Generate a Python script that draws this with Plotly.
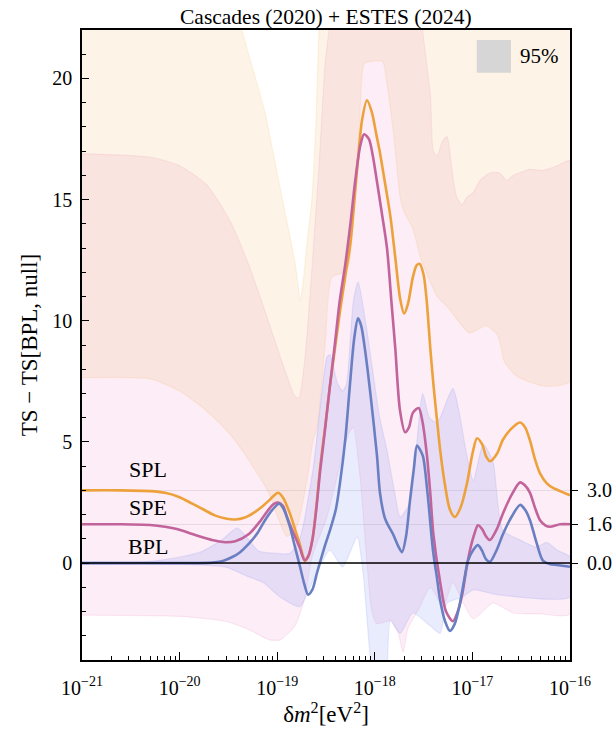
import numpy as np
import plotly.graph_objects as go

# ---------------- data (x given as log10 of delta m^2 [eV^2]) ----------------
spl_logx = [-21.0, -20.6, -20.3, -20.15, -20.0, -19.87, -19.75, -19.64, -19.53, -19.43, -19.33, -19.23,
            -19.15, -19.08, -19.03, -18.99, -18.94, -18.87, -18.81, -18.77, -18.74, -18.715, -18.68,
            -18.64, -18.60, -18.56, -18.51, -18.46, -18.41, -18.36, -18.30, -18.25, -18.18, -18.13,
            -18.08, -18.03, -17.98, -17.95, -17.90, -17.84, -17.79, -17.74, -17.70, -17.66, -17.61,
            -17.57, -17.54, -17.50, -17.47, -17.43, -17.40, -17.36, -17.33, -17.28, -17.23, -17.18,
            -17.12, -17.055, -17.0, -16.953, -16.90, -16.86, -16.82, -16.75, -16.686, -16.60, -16.512,
            -16.46, -16.41, -16.36, -16.307, -16.24, -16.174, -16.09, -16.0]
spl_ts = [3.0, 3.0, 2.97, 2.9, 2.72, 2.45, 2.2, 1.97, 1.84, 1.8, 1.88, 2.1,
          2.35, 2.6, 2.8, 2.9, 2.7, 2.05, 1.3, 0.8, 0.35, 0.08, 0.3,
          0.95, 2.3, 3.95, 5.6, 7.3, 8.8, 10.3, 11.9, 13.2, 16.3, 18.3,
          19.1, 18.6, 17.6, 17.0, 15.8, 14.3, 12.6, 10.9, 10.3, 10.7, 11.8,
          12.3, 12.35, 11.9, 10.9, 8.8, 7.4, 5.8, 4.65, 3.2, 2.2, 1.9,
          2.3, 3.3, 4.5, 5.15, 4.9, 4.4, 4.2, 4.5, 5.1, 5.55, 5.8,
          5.6, 5.06, 4.3, 3.7, 3.3, 3.1, 2.95, 2.8]

spe_logx = [-21.0, -20.6, -20.3, -20.15, -20.0, -19.87, -19.75, -19.64, -19.535, -19.43, -19.29, -19.18,
            -19.08, -19.03, -18.99, -18.94, -18.90, -18.84, -18.77, -18.72, -18.68, -18.64, -18.60,
            -18.56, -18.51, -18.46, -18.41, -18.36, -18.30, -18.25, -18.20, -18.15, -18.11, -18.06,
            -18.02, -17.98, -17.93, -17.875, -17.83, -17.79, -17.742, -17.69, -17.65, -17.61, -17.55,
            -17.51, -17.465, -17.43, -17.40, -17.33, -17.27, -17.20, -17.15, -17.10, -17.06, -17.025,
            -16.98, -16.943, -16.90, -16.86, -16.82, -16.75, -16.686, -16.60, -16.512, -16.46, -16.41,
            -16.36, -16.307, -16.25, -16.205, -16.10, -16.0]
spe_ts = [1.6, 1.6, 1.57, 1.5, 1.38, 1.2, 1.05, 0.93, 0.86, 0.9, 1.2, 1.7,
          2.25, 2.45, 2.5, 2.35, 1.9, 1.3, 0.65, 0.12, 0.3, 0.95, 2.2,
          3.8, 5.5, 7.3, 9.0, 10.8, 12.4, 14.0, 15.8, 17.2, 17.7, 17.5,
          16.8, 15.8, 14.5, 13.0, 10.8, 8.85, 6.3, 5.4, 5.6, 6.2, 6.4,
          5.8, 4.4, 2.8, 1.2, -0.8, -2.0, -2.4, -2.0, -1.2, -0.2, 0.53,
          1.2, 1.56, 1.4, 1.1, 0.95, 1.4, 2.06, 2.8, 3.33, 3.2, 2.9,
          2.3, 1.77, 1.55, 1.5, 1.6, 1.6]

bpl_logx = [-21.0, -20.5, -20.0, -19.8, -19.64, -19.55, -19.46, -19.38, -19.29, -19.2, -19.125, -19.05,
            -18.98, -18.93, -18.87, -18.82, -18.766, -18.72, -18.684, -18.64, -18.592, -18.52, -18.459,
            -18.40, -18.357, -18.30, -18.254, -18.21, -18.172, -18.14, -18.10, -18.04, -17.977, -17.947,
            -17.90, -17.875, -17.814, -17.76, -17.721, -17.68, -17.639, -17.60, -17.568, -17.54, -17.506,
            -17.46, -17.404, -17.36, -17.332, -17.28, -17.23, -17.18, -17.127, -17.08, -17.045, -16.99,
            -16.943, -16.90, -16.86, -16.82, -16.75, -16.686, -16.60, -16.512, -16.46, -16.41, -16.34,
            -16.277, -16.20, -16.133, -16.0]
bpl_ts = [0.0, 0.0, 0.0, 0.0, 0.03, 0.1, 0.25, 0.45, 0.8, 1.25, 1.77, 2.2,
          2.45, 2.2, 1.5, 0.7, -0.15, -0.9, -1.3, -1.1, -0.4, 0.6, 1.36,
          2.2, 3.3, 5.2, 7.4, 9.3, 10.1, 9.8, 8.8, 6.8, 4.4, 2.9,
          1.9, 1.65, 1.2, 0.7, 0.45, 1.1, 2.6, 3.9, 4.85, 4.7, 4.4,
          2.9, 0.53, -0.7, -1.5, -2.4, -2.8, -2.5, -1.65, -0.6, 0.1, 0.55,
          0.74, 0.5, 0.15, 0.05, 0.55, 1.2, 1.9, 2.4, 2.2, 1.77, 0.8,
          0.1, -0.05, -0.08, -0.15]

# 95% bands
spl_hi_logx = [-21.0, -19.45, -19.361, -19.25, -19.125, -19.04, -18.951, -18.88, -18.818, -18.78, -18.766,
               -18.74, -18.70, -18.643, -18.60, -18.572, -18.54, -16.0]
spl_hi = [24, 24, 22, 20.4, 18.6, 16.9, 15.1, 13.7, 12.4, 11.3, 10.8,
          11.4, 13.0, 15.1, 18.5, 22, 24, 24]
spl_lo_logx = [-21.0, -20.3, -20.0, -19.73, -19.5, -19.35, -19.10, -18.90, -18.80, -18.70, -18.63, -18.59,
               -18.51, -18.44, -18.31, -18.26, -18.16, -18.11, -18.05, -17.92, -17.88, -17.81, -17.74,
               -17.70, -17.61, -17.53, -17.36, -17.26, -17.03, -16.86, -16.74, -16.67, -16.54, -16.26, -16.0]
spl_lo = [7.65, 7.6, 7.1, 6.3, 5.4, 4.6, 3.0, 1.1, 1.5, 3.3, 5.1, 5.6,
          9.0, 11.8, 12.0, 12.4, 17.9, 20.6, 20.7, 20.7, 19.9, 17.8, 15.1,
          14.5, 13.8, 12.6, 11.0, 10.6, 9.5, 9.8, 9.4, 8.3, 7.7, 7.3, 7.5]

spe_hi_logx = [-21.0, -20.3, -20.0, -19.72, -19.48, -19.30, -19.125, -18.95, -18.82, -18.78, -18.72, -18.64,
               -18.57, -18.51, -18.47, -18.44, -17.55, -17.51, -17.43, -17.40, -17.36, -17.31, -17.26,
               -17.21, -17.16, -17.107, -17.055, -16.99, -16.92, -16.82, -16.72, -16.65, -16.58, -16.41,
               -16.28, -16.13, -16.0]
spe_hi = [16.9, 16.75, 16.4, 15.6, 14.1, 12.4, 10.4, 8.3, 6.9, 6.8, 8.3, 12.4,
          16.5, 20.6, 22, 24, 24, 22, 19.3, 17.0, 16.8, 17.4, 17.6,
          16.25, 15.1, 14.8, 15.1, 15.3, 15.8, 16.1, 16.1, 15.8, 16.0, 16.25,
          16.2, 16.4, 16.6]
spe_lo_logx = [-21.0, -20.0, -19.535, -19.29, -19.08, -18.97, -18.82, -18.72, -18.64, -18.49, -18.36, -18.26,
               -18.22, -18.15, -18.08, -18.03, -17.98, -17.84, -17.76, -17.71, -17.66, -17.55, -17.43,
               -17.30, -17.20, -17.10, -16.99, -16.79, -16.58, -16.3, -16.0]
spe_lo = [-2.15, -2.2, -2.4, -2.75, -3.17, -3.17, -2.6, -1.5, 0.3, 1.9, 4.0, 5.4,
          5.6, 3.5, 0.0, -2.0, -2.5, -2.4, -2.9, -3.7, -2.7, -1.9, -1.0,
          -1.8, -0.8, -1.6, -2.3, -1.65, -2.06, -2.1, -2.1]

bpl_hi_logx = [-21.0, -20.3, -20.0, -19.79, -19.57, -19.41, -19.30, -19.19, -19.0, -18.87, -18.77, -18.63,
               -18.49, -18.46, -18.38, -18.33, -18.29, -18.22, -18.17, -18.10, -18.02, -17.95, -17.875,
               -17.80, -17.74, -17.64, -17.51, -17.44, -17.36, -17.20, -17.055, -16.99, -16.89, -16.79,
               -16.69, -16.51, -16.34, -16.24, -16.13, -16.0]
bpl_hi = [0.05, 0.07, 0.25, 0.45, 0.95, 1.45, 1.0, 0.5, 0.4, 0.4, 1.0, 3.95,
          8.5, 8.6, 7.4, 7.1, 7.4, 10.8, 11.6, 10.1, 7.9, 6.0, 4.65,
          3.0, 1.9, 2.5, 7.0, 6.0, 5.8, 7.2, 4.4, 3.4, 4.9, 4.2,
          1.36, 0.95, 0.66, 0.86, 0.53, 0.25]
bpl_lo_logx = [-21.0, -20.0, -19.535, -19.29, -19.145, -18.97, -18.77, -18.63, -18.46, -18.33, -18.18, -18.12,
               -18.05, -18.0, -17.9, -17.84, -17.74, -17.61, -17.43, -17.33, -17.26, -17.10, -16.99,
               -16.75, -16.0]
bpl_lo = [-0.05, -0.05, -0.16, -0.57, -0.8, -1.4, -1.8, -0.7, 0.53, -0.16, 1.07, -0.4,
          -3.7, -5.0, -5.0, -2.35, -2.9, -2.06, -2.6, -2.9, -1.65, -1.4, -1.1,
          -1.3, -1.4]

xtick_exps = [-21, -20, -19, -18, -17, -16]
right_ticks = [0.0, 1.6, 3.0]

SERIF = "Liberation Serif, Times New Roman, serif"
C_SPL = "#eda13a"
C_SPE = "#c2649b"
C_BPL = "#6a7fc2"
F_SPL = "rgba(240,170,70,0.13)"
F_SPE = "rgba(232,95,170,0.11)"
F_BPL = "rgba(105,130,240,0.15)"


def X(lx):
    return (10.0 ** np.asarray(lx, dtype=float)).tolist()


fig = go.Figure()


def band(hx, hy, lx, ly, color):
    xs = X(hx) + X(lx)[::-1]
    ys = list(hy) + list(ly)[::-1]
    fig.add_trace(go.Scatter(x=xs, y=ys, mode="lines", fill="toself", fillcolor=color,
                             line=dict(color=color, width=1.2, shape="spline", smoothing=0.6),
                             hoverinfo="skip", showlegend=False))


band(spe_hi_logx, spe_hi, spe_lo_logx, spe_lo, F_SPE)
band(spl_hi_logx, spl_hi, spl_lo_logx, spl_lo, F_SPL)
band(bpl_hi_logx, bpl_hi, bpl_lo_logx, bpl_lo, F_BPL)

for lx, ys, c in [(spl_logx, spl_ts, C_SPL), (spe_logx, spe_ts, C_SPE), (bpl_logx, bpl_ts, C_BPL)]:
    fig.add_trace(go.Scatter(x=X(lx), y=ys, mode="lines", yaxis="y2",
                             line=dict(color=c, width=2.6, shape="spline", smoothing=0.8),
                             showlegend=False))

minor_vals = [k * 10.0 ** e for e in range(-21, -16) for k in range(2, 10)]

fig.update_layout(
    width=616, height=731,
    margin=dict(l=82, r=46, t=30, b=71),
    paper_bgcolor="white", plot_bgcolor="white",
    font=dict(family=SERIF, size=19, color="black"),
    xaxis=dict(type="log", range=[-21, -16], automargin=False,
               tickvals=[10.0 ** e for e in xtick_exps],
               ticktext=["10<sup>\u2212%d</sup>" % (-e) for e in xtick_exps],
               ticks="inside", ticklen=8, tickwidth=1.3, tickcolor="black",
               minor=dict(ticks="inside", ticklen=4, tickwidth=1, tickcolor="black", tickvals=minor_vals),
               showline=True, linecolor="black", linewidth=1.6, mirror=True,
               showgrid=False, zeroline=False, ticklabelstandoff=9,
               title=dict(text="\u03b4<i>m</i><sup>2</sup>[eV<sup>2</sup>]", standoff=8),
               tickfont=dict(size=20)),
    yaxis=dict(range=[-4, 22], tickvals=[0, 5, 10, 15, 20], automargin=False,
               ticks="inside", ticklen=7, tickwidth=1.3, tickcolor="black",
               minor=dict(ticks="inside", ticklen=4, tickwidth=1, tickcolor="black", dtick=1),
               showline=True, linecolor="black", linewidth=1.6, mirror=True,
               showgrid=False, zeroline=False, ticklabelstandoff=4,
               title=dict(text="TS \u2212 TS[BPL, null]", standoff=8),
               tickfont=dict(size=20)),
    yaxis2=dict(range=[-4, 22], overlaying="y", side="right", automargin=False,
                tickvals=right_ticks, ticktext=["%.1f" % v for v in right_ticks],
                ticks="outside", ticklen=7, tickwidth=1.3, tickcolor="black",
                showgrid=True, gridcolor="rgba(0,0,0,0.09)", gridwidth=1.2, ticklabelstandoff=5,
                zeroline=False, showline=False, tickfont=dict(size=20)),
)

fig.add_shape(type="line", xref="paper", x0=0, x1=1, yref="y", y0=0, y1=0,
              line=dict(color="black", width=1.5), layer="above")

# legend-like box
fig.add_shape(type="rect", xref="paper", yref="paper", x0=0.809, x1=0.879, y0=0.932, y1=0.984,
              fillcolor="#d6d6d6", line=dict(width=0), layer="above")
fig.add_annotation(x=0.893, y=0.958, xref="paper", yref="paper", text="95%", showarrow=False,
                   xanchor="left", yanchor="middle", font=dict(size=21))

fig.add_annotation(x=0.5, y=1.0, xref="paper", yref="paper", text="Cascades (2020) + ESTES (2024)",
                   showarrow=False, xanchor="center", yanchor="bottom", yshift=-1, font=dict(size=21.5))

for name, yv in [("SPL", 3.85), ("SPE", 2.3), ("BPL", 0.7)]:
    fig.add_annotation(x=-20.32, y=yv, xref="x", yref="y", text=name, showarrow=False,
                       xanchor="center", yanchor="middle", font=dict(size=22))

fig.write_html("out.html")
